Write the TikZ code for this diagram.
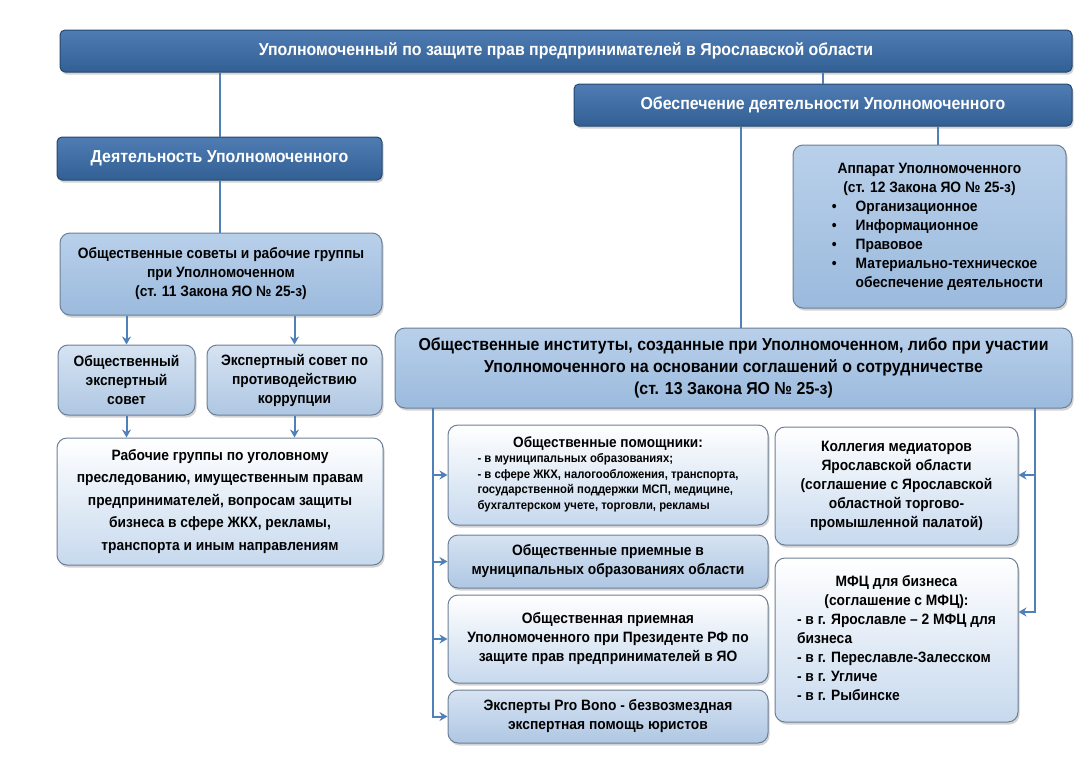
\documentclass[tikz,border=0pt]{standalone}
\usepackage{fontspec}
\setmainfont{Liberation Sans}[FakeStretch=0.92]
\usepackage{tikz}
\usetikzlibrary{shapes,arrows.meta,shadows}
\definecolor{linkblue}{HTML}{4F80B8}
\definecolor{darktop}{HTML}{4F7DB3}
\definecolor{darkbot}{HTML}{325F94}
\definecolor{darkline}{HTML}{24476E}
\definecolor{midtop}{HTML}{B9D0EA}
\definecolor{midbot}{HTML}{9BBADD}
\definecolor{softtop}{HTML}{D6E3F2}
\definecolor{softbot}{HTML}{AFC7E3}
\definecolor{palebot}{HTML}{C7D9EE}
\definecolor{boxline}{HTML}{6C7F97}
\tikzstyle{orgbox} = [draw=boxline, line width=1pt, rounded corners=10pt, align=center, inner sep=2pt,
  font=\fontsize{15}{19}\selectfont\bfseries,
  drop shadow={shadow xshift=1.5pt, shadow yshift=-2.5pt, opacity=0.35}]
\tikzstyle{darkbox} = [orgbox, draw=darkline, rounded corners=5pt, top color=darktop, bottom color=darkbot, text=white,
  font=\fontsize{17.3}{20}\selectfont\bfseries]
\tikzstyle{midbox} = [orgbox, top color=midtop, bottom color=midbot]
\tikzstyle{softbox} = [orgbox, top color=softtop, bottom color=softbot]
\tikzstyle{palebox} = [orgbox, top color=white, bottom color=palebot]
\tikzstyle{link} = [draw, linkblue, line width=2pt]
\tikzstyle{arrow} = [link, -{Stealth[length=8pt, width=9pt]}]

\begin{document}
\begin{tikzpicture}[x=1pt, y=-1pt]
\useasboundingbox (0, 0) rectangle (1080, 764);

% header row
\node [darkbox, minimum width=1012pt, minimum height=42pt] at (566, 51) (top)
  {Уполномоченный по защите прав предпринимателей в Ярославской области};
\node [darkbox, minimum width=498pt, minimum height=42pt] at (823, 105) (supp)
  {Обеспечение деятельности Уполномоченного};

% left branch
\node [darkbox, minimum width=325pt, minimum height=43pt] at (219.5, 158.5) (act)
  {Деятельность Уполномоченного};
\node [midbox, minimum width=322pt, minimum height=82pt] at (221, 274) (councils)
  {Общественные советы и рабочие группы\\при Уполномоченном\\(ст. 11 Закона ЯО № 25-з)};
\node [softbox, minimum width=137pt, minimum height=70pt] at (126.5, 380) (pubexp)
  {Общественный\\экспертный\\совет};
\node [softbox, minimum width=175pt, minimum height=70pt] at (294.5, 380) (anticor)
  {Экспертный совет по\\противодействию\\коррупции};
\node [palebox, minimum width=326pt, minimum height=127pt, font=\fontsize{15}{22.5}\selectfont\bfseries] at (220, 501.5) (groups)
  {Рабочие группы по уголовному\\преследованию, имущественным правам\\предпринимателей, вопросам защиты\\бизнеса в сфере ЖКХ, рекламы,\\транспорта и иным направлениям};

% right branch
\node [midbox, minimum width=273pt, minimum height=163pt] at (929.5, 226.5) (staff)
  {\begin{tabular}{@{\hspace{16pt}}c@{\hspace{19pt}}l@{}}
   \multicolumn{2}{@{}c@{}}{Аппарат Уполномоченного}\\
   \multicolumn{2}{@{}c@{}}{(ст. 12 Закона ЯО № 25-з)}\\
   \textbullet & Организационное\\
   \textbullet & Информационное\\
   \textbullet & Правовое\\
   \textbullet & Материально-техническое\\
               & обеспечение деятельности
   \end{tabular}};
\node [midbox, minimum width=677pt, minimum height=80pt, font=\fontsize{17.3}{22}\selectfont\bfseries] at (733.5, 368) (inst)
  {Общественные институты, созданные при Уполномоченном, либо при участии\\Уполномоченного на основании соглашений о сотрудничестве\\(ст. 13 Закона ЯО № 25-з)};

\node [palebox, minimum width=320pt, minimum height=100pt, font=\fontsize{12.3}{15.5}\selectfont\bfseries] at (608, 475) (helpers)
  {\begin{tabular}{@{}l@{}}
   \multicolumn{1}{@{}c@{}}{\fontsize{14.8}{18}\selectfont Общественные помощники:}\\
   - в муниципальных образованиях;\\
   - в сфере ЖКХ, налогообложения, транспорта,\\
   государственной поддержки МСП, медицине,\\
   бухгалтерском учете, торговли, рекламы
   \end{tabular}};
\node [softbox, minimum width=320pt, minimum height=53pt] at (608, 561.5) (recept)
  {Общественные приемные в\\муниципальных образованиях области};
\node [palebox, minimum width=320pt, minimum height=88pt] at (608, 639) (prezrec)
  {Общественная приемная\\Уполномоченного при Президенте РФ по\\защите прав предпринимателей в ЯО};
\node [softbox, minimum width=320pt, minimum height=53pt] at (608, 716.5) (probono)
  {Эксперты Pro Bono - безвозмездная\\экспертная помощь юристов};

\node [palebox, minimum width=243pt, minimum height=118pt] at (896.5, 486) (mediat)
  {Коллегия медиаторов\\Ярославской области\\(соглашение с Ярославской\\областной торгово-\\промышленной палатой)};
\node [palebox, minimum width=243pt, minimum height=164pt] at (896.5, 640) (mfc)
  {\begin{tabular}{@{}l@{}}
   \multicolumn{1}{@{}c@{}}{МФЦ для бизнеса}\\
   \multicolumn{1}{@{}c@{}}{(соглашение с МФЦ):}\\
   - в г. Ярославле – 2 МФЦ для\\
   бизнеса\\
   - в г. Переславле-Залесском\\
   - в г. Угличе\\
   - в г. Рыбинске
   \end{tabular}};

% connectors
\coordinate (lbus) at (433, 408);
\coordinate (rbus) at (1035, 408);

\path [link] (act.north |- top.south) -- (act.north);
\path [link] (supp.north |- top.south) -- (supp.north);
\path [link] (act.south) -- (act.south |- councils.north);
\path [arrow] (pubexp.north |- councils.south) -- (pubexp.north);
\path [arrow] (anticor.north |- councils.south) -- (anticor.north);
\path [arrow] (pubexp.south) -- (pubexp.south |- groups.north);
\path [arrow] (anticor.south) -- (anticor.south |- groups.north);

\path [link] ([xshift=7pt]inst.north |- supp.south) -- ([xshift=7pt]inst.north);
\path [link] ([xshift=8pt]staff.north |- supp.south) -- ([xshift=8pt]staff.north);

\path [arrow] (lbus) |- (helpers.west);
\path [arrow] (lbus) |- (recept.west);
\path [arrow] (lbus) |- (prezrec.west);
\path [arrow] (lbus) |- (probono.west);
\path [arrow] (rbus) |- ([yshift=11pt]mediat.east);
\path [arrow] (rbus) |- ([yshift=28pt]mfc.east);
\end{tikzpicture}
\end{document}
